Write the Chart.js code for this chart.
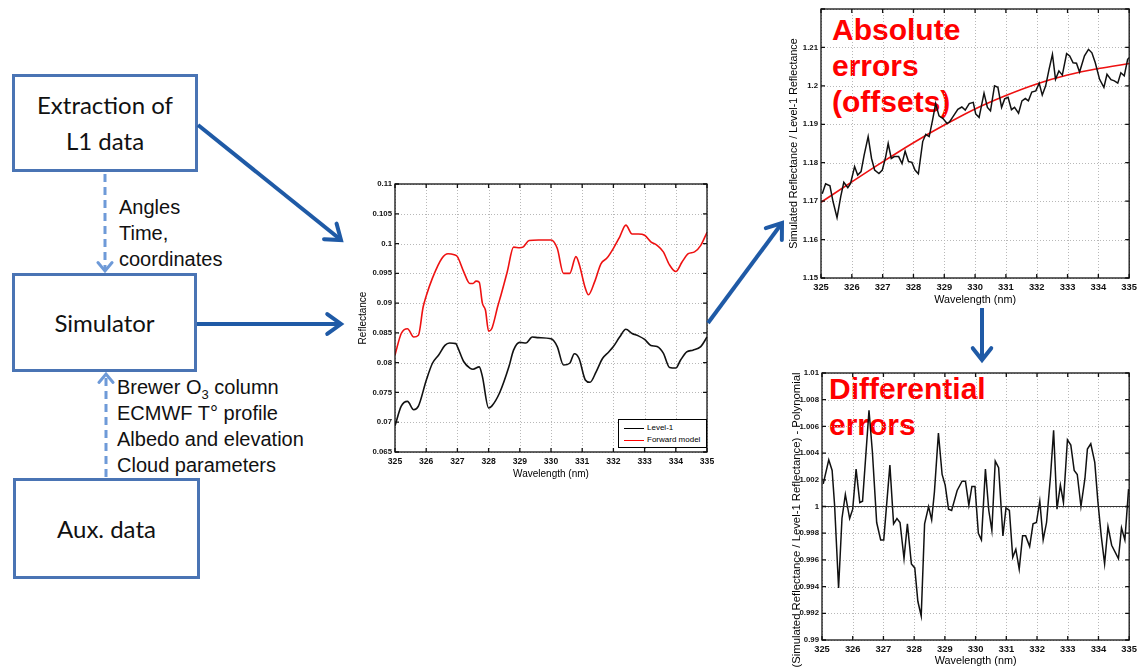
<!DOCTYPE html>
<html><head><meta charset="utf-8">
<script src="https://cdn.jsdelivr.net/npm/chart.js@4.4.1/dist/chart.umd.min.js"></script>
<style>
html,body{margin:0;padding:0;background:#fff;}
#root{position:relative;width:1141px;height:668px;overflow:hidden;background:#fff;}
.box{position:absolute;border:3px solid #4a74b4;box-sizing:border-box;display:flex;align-items:center;justify-content:center;text-align:center;font-family:Lato,'Open Sans',sans-serif;font-size:24px;line-height:36px;color:#111;}
.note{position:absolute;font-family:'Liberation Sans',Arial,sans-serif;font-size:20px;line-height:26px;color:#111;white-space:nowrap;}
.big{position:absolute;font-family:'Liberation Sans',Arial,sans-serif;font-weight:bold;color:#f00;font-size:30px;line-height:36px;white-space:nowrap;z-index:1;}
canvas{position:absolute;z-index:2;}
#legend{position:absolute;left:618px;top:419px;width:89px;height:29px;box-sizing:border-box;border:1px solid #000;background:#fff;z-index:3;font-family:'Liberation Sans',Arial,sans-serif;font-size:8px;color:#000;}
#legend div{position:absolute;left:28px;white-space:nowrap;}
#legend span{position:absolute;left:5px;width:20px;height:0;border-top:1.5px solid #000;}
#botTitle{position:absolute;left:636px;top:513px;width:320px;height:14px;line-height:14px;text-align:center;font-family:'Liberation Sans',Arial,sans-serif;font-size:11.3px;color:#000;white-space:nowrap;transform:rotate(-90deg);transform-origin:160px 7px;z-index:3;}
svg{position:absolute;left:0;top:0;z-index:4;pointer-events:none;}
</style></head>
<body>
<div id="root">
  <div class="box" style="left:12px;top:74px;width:186px;height:98px;">Extraction of<br>L1 data</div>
  <div class="box" style="left:12px;top:273px;width:185px;height:99px;">Simulator</div>
  <div class="box" style="left:13px;top:478px;width:187px;height:101px;">Aux. data</div>
  <div class="note" style="left:119px;top:194px;">Angles<br>Time,<br>coordinates</div>
  <div class="note" style="left:117px;top:374px;">Brewer O<sub style="font-size:13px;line-height:0;">3</sub> column<br>ECMWF T° profile<br>Albedo and elevation<br>Cloud parameters</div>

  <div class="big" style="left:832px;top:12px;">Absolute<br>errors<br>(offsets)</div>
  <div class="big" style="left:829px;top:371px;">Differential<br>errors</div>

  <canvas id="cMid" width="380" height="305" style="left:340px;top:175px;"></canvas>
  <canvas id="cTop" width="361" height="310" style="left:780px;top:0px;"></canvas>
  <canvas id="cBot" width="361" height="308" style="left:780px;top:360px;"></canvas>
  <div id="botTitle">(Simulated Reflectance / Level-1 Reflectance) - Polynomial</div>

  <div id="legend">
    <span style="top:8px;border-color:#000;"></span><div style="top:3px;">Level-1</div>
    <span style="top:20px;border-color:#f00;"></span><div style="top:15px;">Forward model</div>
  </div>
  <svg id="arrows" width="1141" height="668"></svg>
</div>
<script>
// ---------- DATA ----------
const wavelengthTicks = [325,326,327,328,329,330,331,332,333,334,335];

// Middle chart: Reflectance
const level1X = [325.0,325.2,325.4,325.6,325.75,326.0,326.2,326.4,326.6,326.75,326.95,327.0,327.2,327.4,327.5,327.7,327.8,328.0,328.1,328.35,328.65,328.8,329.0,329.2,329.4,329.6,330.0,330.2,330.4,330.6,330.75,330.9,331.1,331.25,331.45,331.65,331.85,332.0,332.2,332.4,332.6,332.8,333.0,333.2,333.4,333.6,333.8,334.0,334.15,334.35,334.55,334.8,335.0];
const level1Y = [0.0694,0.0727,0.0735,0.0721,0.0727,0.0770,0.0799,0.0813,0.0829,0.0833,0.0832,0.0827,0.0802,0.0791,0.0789,0.0793,0.0777,0.0724,0.0727,0.0749,0.0793,0.0821,0.0834,0.0833,0.0843,0.0842,0.0840,0.0827,0.0796,0.0799,0.0815,0.0807,0.0771,0.0767,0.0785,0.0807,0.0818,0.0827,0.0843,0.0856,0.0849,0.0845,0.0839,0.0829,0.0827,0.0816,0.0792,0.0791,0.0804,0.0818,0.0821,0.0827,0.0843];
const forwardX = [325.0,325.2,325.4,325.6,325.75,325.9,326.0,326.2,326.5,326.7,326.9,327.0,327.2,327.4,327.5,327.6,327.7,327.8,327.9,328.0,328.1,328.3,328.4,328.6,328.8,329.0,329.1,329.3,329.6,330.0,330.2,330.4,330.6,330.8,330.9,331.1,331.2,331.4,331.6,331.8,332.0,332.2,332.4,332.6,332.8,333.0,333.2,333.4,333.6,333.8,334.0,334.2,334.4,334.6,334.8,335.0];
const forwardY = [0.0813,0.0849,0.0857,0.0843,0.0846,0.0893,0.0912,0.0942,0.0975,0.0983,0.0981,0.0978,0.0953,0.0933,0.0933,0.0937,0.0935,0.0900,0.0888,0.0853,0.0857,0.0896,0.0914,0.0953,0.0994,0.0993,0.0994,0.1005,0.1006,0.1006,0.0992,0.0950,0.0950,0.0978,0.0966,0.0925,0.0914,0.0936,0.0966,0.0976,0.0992,0.1011,0.1031,0.1016,0.1016,0.1014,0.1003,0.0997,0.0986,0.0964,0.0953,0.0969,0.0983,0.0986,0.0997,0.1019];

// Top-right chart: ratio and fitted polynomial
const ratioX = [325.04,325.15,325.29,325.39,325.52,325.64,325.74,325.87,325.96,326.09,326.19,326.30,326.40,326.53,326.64,326.74,326.88,326.99,327.10,327.18,327.28,327.38,327.52,327.63,327.73,327.84,327.95,328.05,328.16,328.30,328.40,328.51,328.62,328.72,328.83,328.96,329.09,329.17,329.30,329.44,329.57,329.68,329.81,329.94,330.02,330.13,330.29,330.40,330.50,330.63,330.74,330.86,330.96,331.07,331.18,331.28,331.41,331.52,331.63,331.73,331.84,331.97,332.08,332.18,332.29,332.40,332.51,332.61,332.72,332.83,332.97,333.07,333.18,333.29,333.39,333.55,333.68,333.79,333.90,334.04,334.18,334.28,334.41,334.52,334.63,334.73,334.84,334.95,335.00];
const ratioY = [1.1719,1.1745,1.1740,1.1699,1.1657,1.1712,1.1749,1.1735,1.1746,1.1790,1.1768,1.1777,1.1820,1.1868,1.1811,1.1781,1.1772,1.1781,1.1816,1.1850,1.1811,1.1816,1.1816,1.1798,1.1830,1.1803,1.1801,1.1781,1.1771,1.1855,1.1874,1.1868,1.1911,1.1954,1.1922,1.1915,1.1902,1.1906,1.1922,1.1939,1.1945,1.1937,1.1954,1.1957,1.1927,1.1918,1.1981,1.1944,1.1935,1.2000,1.1996,1.1944,1.1966,1.1970,1.1938,1.1944,1.1929,1.1961,1.1967,1.1961,1.1984,1.1987,1.2007,1.1976,1.2000,1.2043,1.2082,1.2017,1.2039,1.2028,1.2084,1.2078,1.2060,1.2059,1.2036,1.2078,1.2095,1.2086,1.2060,1.2017,1.1996,1.2030,1.2016,1.2013,1.2007,1.2034,1.2026,1.2069,1.2073];
const polyX = [325,326,327,328,329,330,331,332,333,334,335];
const polyY = [1.1697,1.1750,1.1802,1.1852,1.1898,1.1940,1.1975,1.2005,1.2028,1.2045,1.2058];

// Bottom-right chart: ratio minus polynomial
const diffX = [325.04,325.22,325.33,325.41,325.54,325.65,325.76,325.90,326.00,326.11,326.23,326.32,326.53,326.64,326.78,326.91,327.01,327.21,327.33,327.44,327.54,327.67,327.78,327.91,328.02,328.12,328.23,328.34,328.47,328.57,328.66,328.79,328.91,329.01,329.12,329.22,329.40,329.56,329.67,329.78,329.88,329.98,330.09,330.19,330.32,330.43,330.53,330.64,330.75,330.89,330.99,331.10,331.21,331.31,331.42,331.53,331.63,331.76,331.87,331.98,332.09,332.20,332.31,332.44,332.54,332.65,332.76,332.86,332.99,333.10,333.21,333.31,333.43,333.56,333.64,333.75,333.88,333.98,334.09,334.20,334.31,334.43,334.65,334.75,334.86,334.98];
const diffY = [1.0017,1.0035,1.0027,1.0001,0.9939,0.9991,1.0009,0.9991,0.9998,1.0028,1.0003,1.0004,1.0072,1.0041,0.9988,0.9975,0.9975,1.0031,0.9987,0.9991,0.9988,0.9961,0.9987,0.9957,0.9954,0.9929,0.9918,0.9987,1.0000,0.9990,1.0011,1.0055,1.0024,1.0016,0.9998,0.9997,1.0012,1.0019,1.0019,1.0001,1.0015,1.0015,0.9980,0.9975,1.0028,0.9997,0.9982,1.0034,1.0029,0.9978,0.9999,0.9997,0.9962,0.9968,0.9953,0.9978,0.9978,0.9970,0.9987,0.9988,1.0004,0.9975,0.9988,1.0023,1.0057,0.9998,1.0016,1.0003,1.0050,1.0046,1.0027,1.0024,1.0000,1.0021,1.0043,1.0047,1.0033,1.0004,0.9978,0.9957,0.9985,0.9971,0.9961,0.9984,0.9975,1.0013];
const refLineX = [325,335];
const refLineY = [1,1];

// ---------- HELPERS ----------
const FONT = "'Liberation Sans', Arial, sans-serif";
const pts = (xs, ys) => xs.slice(0, Math.min(xs.length, ys.length)).map((v,i)=>({x:v, y:ys[i]}));
const fmt = v => String(+(+v).toFixed(4));

const matlabAxes = {
  id:'matlabAxes',
  beforeDatasetsDraw(chart){
    const {ctx, chartArea:a, scales:{x,y}} = chart;
    ctx.save();
    ctx.strokeStyle='#b8b8b8'; ctx.lineWidth=1; ctx.setLineDash([1,2]);
    ctx.beginPath();
    x.ticks.forEach(t=>{const p=Math.round(x.getPixelForValue(t.value))+0.5; ctx.moveTo(p,a.top); ctx.lineTo(p,a.bottom);});
    y.ticks.forEach(t=>{const p=Math.round(y.getPixelForValue(t.value))+0.5; ctx.moveTo(a.left,p); ctx.lineTo(a.right,p);});
    ctx.stroke(); ctx.restore();
  },
  afterDatasetsDraw(chart){
    const {ctx, chartArea:a, scales:{x,y}} = chart;
    ctx.save();
    ctx.strokeStyle='#111'; ctx.lineWidth=1.3;
    ctx.strokeRect(a.left, a.top, a.right-a.left, a.bottom-a.top);
    ctx.beginPath();
    const k=4;
    x.ticks.forEach(t=>{const p=x.getPixelForValue(t.value); ctx.moveTo(p,a.bottom); ctx.lineTo(p,a.bottom-k); ctx.moveTo(p,a.top); ctx.lineTo(p,a.top+k);});
    y.ticks.forEach(t=>{const p=y.getPixelForValue(t.value); ctx.moveTo(a.left,p); ctx.lineTo(a.left+k,p); ctx.moveTo(a.right,p); ctx.lineTo(a.right-k,p);});
    ctx.stroke(); ctx.restore();
  }
};

function makeChart(id, datasets, o){
  return new Chart(document.getElementById(id), {
    type:'line',
    data:{datasets},
    options:{
      responsive:false, animation:false, devicePixelRatio:1,
      layout:{padding:o.padding},
      plugins:{legend:{display:false}, tooltip:{enabled:false}},
      elements:{point:{radius:0}},
      scales:{
        x:{type:'linear', min:325, max:335,
           afterBuildTicks(s){ s.ticks = wavelengthTicks.map(v=>({value:v})); },
           ticks:{font:{family:FONT,size:o.xTickSize,weight:'bold'}, color:'#111', padding:o.xTickPad, maxRotation:0, autoSkip:false, callback:v=>String(v)},
           grid:{display:false, drawTicks:false}, border:{display:false},
           title:{display:true, text:'Wavelength (nm)', color:'#000', font:{family:FONT,size:o.xTitleSize}, padding:{top:0,bottom:o.xTitlePad}},
           afterFit(s){ s.height = o.xH; }},
        y:{type:'linear', min:o.yMin, max:o.yMax,
           ticks:{stepSize:o.yStep, font:{family:FONT,size:7.8,weight:'bold'}, color:'#111', padding:3, autoSkip:false,
                  callback:v=> (o.hideMax && Math.abs(v-o.yMax)<1e-9) ? '' : fmt(v)},
           grid:{display:false, drawTicks:false}, border:{display:false},
           title:{display:!!o.yTitle, text:o.yTitle || '', color:'#000', font:{family:FONT,size:o.yTitleSize}, padding:{top:o.yTitlePad,bottom:0}},
           afterFit(s){ s.width = o.yW; }}
      }
    },
    plugins:[matlabAxes]
  });
}

// Middle chart
makeChart('cMid', [
  {data:pts(level1X, level1Y), borderColor:'#111', borderWidth:1.6, tension:0.4, cubicInterpolationMode:'monotone', fill:false},
  {data:pts(forwardX, forwardY), borderColor:'#ee1111', borderWidth:1.6, tension:0.4, cubicInterpolationMode:'monotone', fill:false}
], {padding:{left:17,top:9,right:13,bottom:0}, yW:38, xH:28, xTickPad:4, xTickSize:8.6, xTitleSize:10, xTitlePad:0,
    yMin:0.065, yMax:0.11, yStep:0.005, yTitle:'Reflectance', yTitleSize:10, yTitlePad:0});

// Top-right chart
makeChart('cTop', [
  {data:pts(ratioX, ratioY), borderColor:'#111', borderWidth:1.5, tension:0, fill:false},
  {data:pts(polyX, polyY), borderColor:'#ee1111', borderWidth:1.6, tension:0.4, cubicInterpolationMode:'monotone', fill:false}
], {padding:{left:4,top:9,right:7,bottom:0}, yW:37, xH:32, xTickPad:4, xTickSize:9.4, xTitleSize:10.8, xTitlePad:3,
    yMin:1.15, yMax:1.22, yStep:0.01, hideMax:true, yTitle:'Simulated Reflectance / Level-1 Reflectance', yTitleSize:10.7, yTitlePad:4});

// Bottom-right chart (its y title is the rotated text element above)
makeChart('cBot', [
  {data:pts(refLineX, refLineY), borderColor:'#333', borderWidth:1.2, tension:0, fill:false},
  {data:pts(diffX, diffY), borderColor:'#111', borderWidth:1.5, tension:0, fill:false}
], {padding:{left:4,top:13,right:6,bottom:0}, yW:38, xH:28, xTickPad:4, xTickSize:9.4, xTitleSize:10.8, xTitlePad:0,
    yMin:0.99, yMax:1.01, yStep:0.002, yTitle:null, yTitleSize:10.5, yTitlePad:0});

// ---------- Flowchart arrows ----------
const svg = document.getElementById('arrows');
const NS = 'http://www.w3.org/2000/svg';
function arrow(x1,y1,x2,y2,color,w,dash,head,ang){
  const l = document.createElementNS(NS,'line');
  const dx=x2-x1, dy=y2-y1, L=Math.hypot(dx,dy), ux=dx/L, uy=dy/L;
  l.setAttribute('x1',x1); l.setAttribute('y1',y1);
  l.setAttribute('x2',x2-ux*1.5); l.setAttribute('y2',y2-uy*1.5);
  l.setAttribute('stroke',color); l.setAttribute('stroke-width',w);
  if(dash) l.setAttribute('stroke-dasharray',dash);
  svg.appendChild(l);
  const a = ang*Math.PI/180, bx=-ux, by=-uy;
  const p1=[x2+head*(bx*Math.cos(a)-by*Math.sin(a)), y2+head*(bx*Math.sin(a)+by*Math.cos(a))];
  const p2=[x2+head*(bx*Math.cos(a)+by*Math.sin(a)), y2+head*(-bx*Math.sin(a)+by*Math.cos(a))];
  const pl = document.createElementNS(NS,'polyline');
  pl.setAttribute('points', `${p1[0]},${p1[1]} ${x2},${y2} ${p2[0]},${p2[1]}`);
  pl.setAttribute('fill','none'); pl.setAttribute('stroke',color); pl.setAttribute('stroke-width',w);
  pl.setAttribute('stroke-linejoin','miter'); pl.setAttribute('stroke-linecap','round');
  svg.appendChild(pl);
}
const dark='#1f5aa6', light='#6e9ad8';
arrow(198,125,341,240,dark,4,null,17,36);
arrow(197,324,341,324,dark,4,null,17,36);
arrow(708,323,782,223,dark,4,null,17,36);
arrow(982,308,982,360,dark,4,null,15,38);
arrow(105,174,105,271,light,3,'8,5',11,40);
arrow(106,477,106,374,light,3,'8,5',11,40);
</script>
</body></html>
